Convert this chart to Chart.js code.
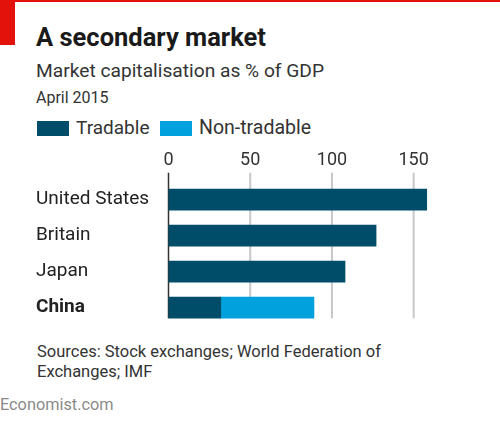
<!DOCTYPE html>
<html>
<head>
<meta charset="utf-8">
<script src="https://cdn.jsdelivr.net/npm/chart.js@4"></script>
<style>
  body { margin: 0; background: #fff; }
  #wrap { position: relative; width: 500px; height: 422px; overflow: hidden; font-family: Roboto, sans-serif; color: #333; }
  #wrap canvas { position: absolute; left: 0; top: 0; }
  .txt { position: absolute; white-space: nowrap; }
  .sw { position: absolute; width: 32px; height: 15px; }
</style>
</head>
<body>
<div id="wrap">
  <div style="position:absolute;left:0;top:0;width:500px;height:2px;background:#e3120b"></div>
  <div style="position:absolute;left:0;top:0;width:15px;height:45px;background:#e3120b"></div>
  <div class="txt" style="left:36px;top:22px;font-size:25.5px;font-weight:bold;color:#1a1a1a">A secondary market</div>
  <div class="txt" style="left:36px;top:59px;font-size:19.2px;color:#333">Market capitalisation as % of GDP</div>
  <div class="txt" style="left:36px;top:88px;font-size:16px;color:#333">April 2015</div>
  <div class="sw" style="left:37px;top:121px;background:#004d6a"></div>
  <div class="txt" style="left:76px;top:116px;font-size:19px;color:#333">Tradable</div>
  <div class="sw" style="left:160px;top:121px;background:#00a1dd"></div>
  <div class="txt" style="left:199px;top:116px;font-size:19.5px;color:#333">Non-tradable</div>
  <div class="txt" style="left:37px;top:342px;font-size:16.5px;color:#333">Sources: Stock exchanges; World Federation of</div>
  <div class="txt" style="left:37px;top:362px;font-size:16.5px;color:#333">Exchanges; IMF</div>
  <div class="txt" style="left:0px;top:395px;font-size:16.3px;color:#8a8a8a">Economist.com</div>
  <canvas id="myChart" width="500" height="422"></canvas>
</div>
<script>
'use strict';

let countries = ['United States', 'Britain', 'Japan', 'China'];
let tradable = [158, 127, 108, 32];
let nonTradable = [null, null, null, 57];
let tickValues = [0, 50, 100, 150];

// grid lines: from a bit above the first bar to the bottom of the last bar
let gridPlugin = {
    id: 'gridLines',
    beforeDatasetsDraw(chart) {
        let ctx = chart.ctx;
        let x = chart.scales.x;
        let y = chart.scales.y;
        let top = y.getPixelForValue(0) - 27;
        let bottom = y.getPixelForValue(countries.length - 1) + 10.5;
        ctx.save();
        for (let i = 0; i < tickValues.length; i++) {
            let px = x.getPixelForValue(tickValues[i]);
            ctx.beginPath();
            if (tickValues[i] === 0) {
                ctx.strokeStyle = '#333';
                ctx.lineWidth = 1.5;
            } else {
                ctx.strokeStyle = '#c8c8c8';
                ctx.lineWidth = 2;
            }
            ctx.moveTo(px, top);
            ctx.lineTo(px, bottom);
            ctx.stroke();
        }
        ctx.restore();
    }
};

let ctx = document.getElementById('myChart').getContext('2d');
let myChart = new Chart(ctx, {
    type: 'bar',
    data: {
        labels: countries,
        datasets: [{
            label: 'Tradable',
            data: tradable,
            backgroundColor: '#004d6a',
            barThickness: 21
        }, {
            label: 'Non-tradable',
            data: nonTradable,
            backgroundColor: '#00a1dd',
            barThickness: 21
        }]
    },
    options: {
        indexAxis: 'y',
        responsive: false,
        animation: false,
        layout: {
            padding: { left: 36, right: 70, top: 141.7, bottom: 96.3 }
        },
        plugins: {
            legend: { display: false },
            tooltip: { enabled: false }
        },
        scales: {
            x: {
                position: 'top',
                stacked: true,
                min: 0,
                max: 160,
                afterFit: function (scale) { scale.height = 40; },
                afterBuildTicks: function (scale) {
                    scale.ticks = tickValues.map(v => ({ value: v }));
                },
                grid: { display: false, drawTicks: false },
                border: { display: false },
                ticks: {
                    padding: 10,
                    color: '#333',
                    font: { family: 'Roboto', size: 18 }
                }
            },
            y: {
                stacked: true,
                afterFit: function (scale) { scale.width = 132.5; },
                grid: { display: false, drawTicks: false },
                border: { display: false },
                ticks: {
                    crossAlign: 'far',
                    color: '#222',
                    font: function (c) {
                        return { family: 'Roboto', size: 19, weight: c.index === 3 ? 'bold' : 'normal' };
                    }
                }
            }
        }
    },
    plugins: [gridPlugin]
});
</script>
</body>
</html>
